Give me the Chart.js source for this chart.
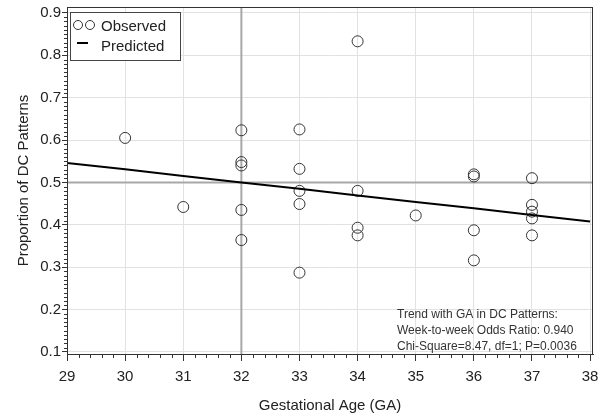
<!DOCTYPE html>
<html>
<head>
<meta charset="utf-8">
<script src="https://cdn.jsdelivr.net/npm/chart.js@4.4.1/dist/chart.umd.min.js"></script>
<style>
  html, body { margin: 0; padding: 0; background: #fff; }
  canvas { display: block; }
</style>
</head>
<body>
<canvas id="chart" width="600" height="419"></canvas>
<script>
// observed proportions per gestational week
const gaObs = [30, 31, 32, 32, 32, 32, 32, 33, 33, 33, 33, 33, 34, 34, 34, 34, 35, 36, 36, 36, 36, 37, 37, 37, 37, 37];
const propObs = [0.605, 0.442, 0.623, 0.548, 0.540, 0.435, 0.364, 0.625, 0.532, 0.480, 0.449, 0.287, 0.833, 0.480, 0.393, 0.375, 0.422, 0.519, 0.514, 0.387, 0.316, 0.510, 0.447, 0.431, 0.415, 0.375];

// predicted trend line
const gaFit = [29, 30, 31, 32, 33, 34, 35, 36, 37, 38];
const propFit = [0.546, 0.531, 0.515, 0.500, 0.485, 0.469, 0.454, 0.439, 0.423, 0.408];

const xTicks = [29, 30, 31, 32, 33, 34, 35, 36, 37, 38];
const yTicks = [0.1, 0.2, 0.3, 0.4, 0.5, 0.6, 0.7, 0.8, 0.9];
const refGA = 32;
const refProp = 0.5;
const noteLines = ["Trend with GA in DC Patterns:", "Week-to-week Odds Ratio: 0.940", "Chi-Square=8.47, df=1; P=0.0036"];

const FONT = "'Liberation Sans', Arial, sans-serif";
const INK = "#222";

const decor = {
  id: "decor",
  beforeDatasetsDraw(chart) {
    const { ctx, chartArea: a, scales: { x, y } } = chart;
    ctx.save();
    ctx.strokeStyle = "#a8a8a8";
    ctx.lineWidth = 2;
    const px = x.getPixelForValue(refGA);
    const py = y.getPixelForValue(refProp);
    ctx.beginPath();
    ctx.moveTo(px, a.top); ctx.lineTo(px, a.bottom);
    ctx.moveTo(a.left, py); ctx.lineTo(a.right, py);
    ctx.stroke();
    ctx.restore();
  },
  afterDraw(chart) {
    const { ctx, chartArea: a, scales: { x, y } } = chart;
    ctx.save();
    // frame
    ctx.strokeStyle = "#333";
    ctx.lineWidth = 1;
    ctx.strokeRect(a.left + 0.5, a.top + 0.5, a.right - a.left - 1, a.bottom - a.top);

    // minor ticks
    ctx.beginPath();
    for (let i = 0; i < xTicks.length - 1; i++) {
      for (let k = 1; k < 5; k++) {
        const px = Math.round(x.getPixelForValue(xTicks[i] + k * 0.2)) + 0.5;
        ctx.moveTo(px, a.bottom); ctx.lineTo(px, a.bottom + 4);
      }
    }
    for (let i = 0; i < yTicks.length - 1; i++) {
      for (let k = 1; k < 10; k++) {
        const py = Math.round(y.getPixelForValue(yTicks[i] + k * 0.01)) + 0.5;
        ctx.moveTo(a.left, py); ctx.lineTo(a.left - 3, py);
      }
    }
    ctx.stroke();

    // legend box
    ctx.fillStyle = "#fff";
    ctx.fillRect(70, 12, 111, 49);
    ctx.strokeStyle = "#444";
    ctx.strokeRect(70.5, 12.5, 110, 48);
    ctx.lineWidth = 1;
    ctx.strokeStyle = "#333";
    [78, 90].forEach(cx => { ctx.beginPath(); ctx.arc(cx, 25, 4.5, 0, Math.PI * 2); ctx.stroke(); });
    ctx.lineWidth = 2;
    ctx.strokeStyle = "#000";
    ctx.beginPath(); ctx.moveTo(77, 43); ctx.lineTo(88, 43); ctx.stroke();
    ctx.fillStyle = INK;
    ctx.font = "15px " + FONT;
    ctx.textBaseline = "middle";
    ctx.textAlign = "left";
    ctx.fillText("Observed", 101, 27);
    ctx.fillText("Predicted", 101, 47);

    // note
    ctx.font = "12px " + FONT;
    ctx.fillStyle = "#333";
    noteLines.forEach((t, i) => ctx.fillText(t, 397, 315 + i * 16));
    ctx.restore();
  }
};

new Chart(document.getElementById("chart").getContext("2d"), {
  type: "scatter",
  data: {
    datasets: [{
      label: "Predicted",
      data: gaFit.map((g, i) => ({ x: g, y: propFit[i] })),
      showLine: true,
      borderColor: "#000",
      borderWidth: 2,
      pointRadius: 0
    }, {
      label: "Observed",
      data: gaObs.map((g, i) => ({ x: g, y: propObs[i] })),
      pointStyle: "circle",
      pointRadius: 5.5,
      pointBorderWidth: 1,
      pointBorderColor: "#333",
      pointBackgroundColor: "rgba(0,0,0,0)"
    }]
  },
  options: {
    responsive: false,
    animation: false,
    layout: { padding: { left: 0, right: 7, top: 7, bottom: 0 } },
    plugins: { legend: { display: false }, tooltip: { enabled: false } },
    scales: {
      x: {
        type: "linear",
        min: 29,
        max: 38.05,
        afterBuildTicks: s => { s.ticks = xTicks.map(v => ({ value: v })); },
        afterFit: s => { s.height = 65; s.paddingLeft = 0; s.paddingRight = 0; },
        grid: { color: "#e2e2e2", tickColor: "#333", tickLength: 7 },
        border: { color: "#333" },
        ticks: { color: INK, font: { family: FONT, size: 15 }, padding: 7, maxRotation: 0 },
        title: { display: true, text: "Gestational Age (GA)", color: INK, font: { family: FONT, size: 15 }, padding: { top: 4, bottom: 4 } }
      },
      y: {
        min: 0.095,
        max: 0.914,
        afterBuildTicks: s => { s.ticks = yTicks.map(v => ({ value: v })); },
        afterFit: s => { s.width = 67; s.paddingTop = 0; s.paddingBottom = 0; },
        grid: { color: "#e2e2e2", tickColor: "#333", tickLength: 5 },
        border: { color: "#333" },
        ticks: { color: INK, font: { family: FONT, size: 15 }, padding: 1, callback: v => v.toFixed(1) },
        title: { display: true, text: "Proportion of DC Patterns", color: INK, font: { family: FONT, size: 15 }, padding: { top: 15, bottom: 0 } }
      }
    }
  },
  plugins: [decor]
});
</script>
</body>
</html>
